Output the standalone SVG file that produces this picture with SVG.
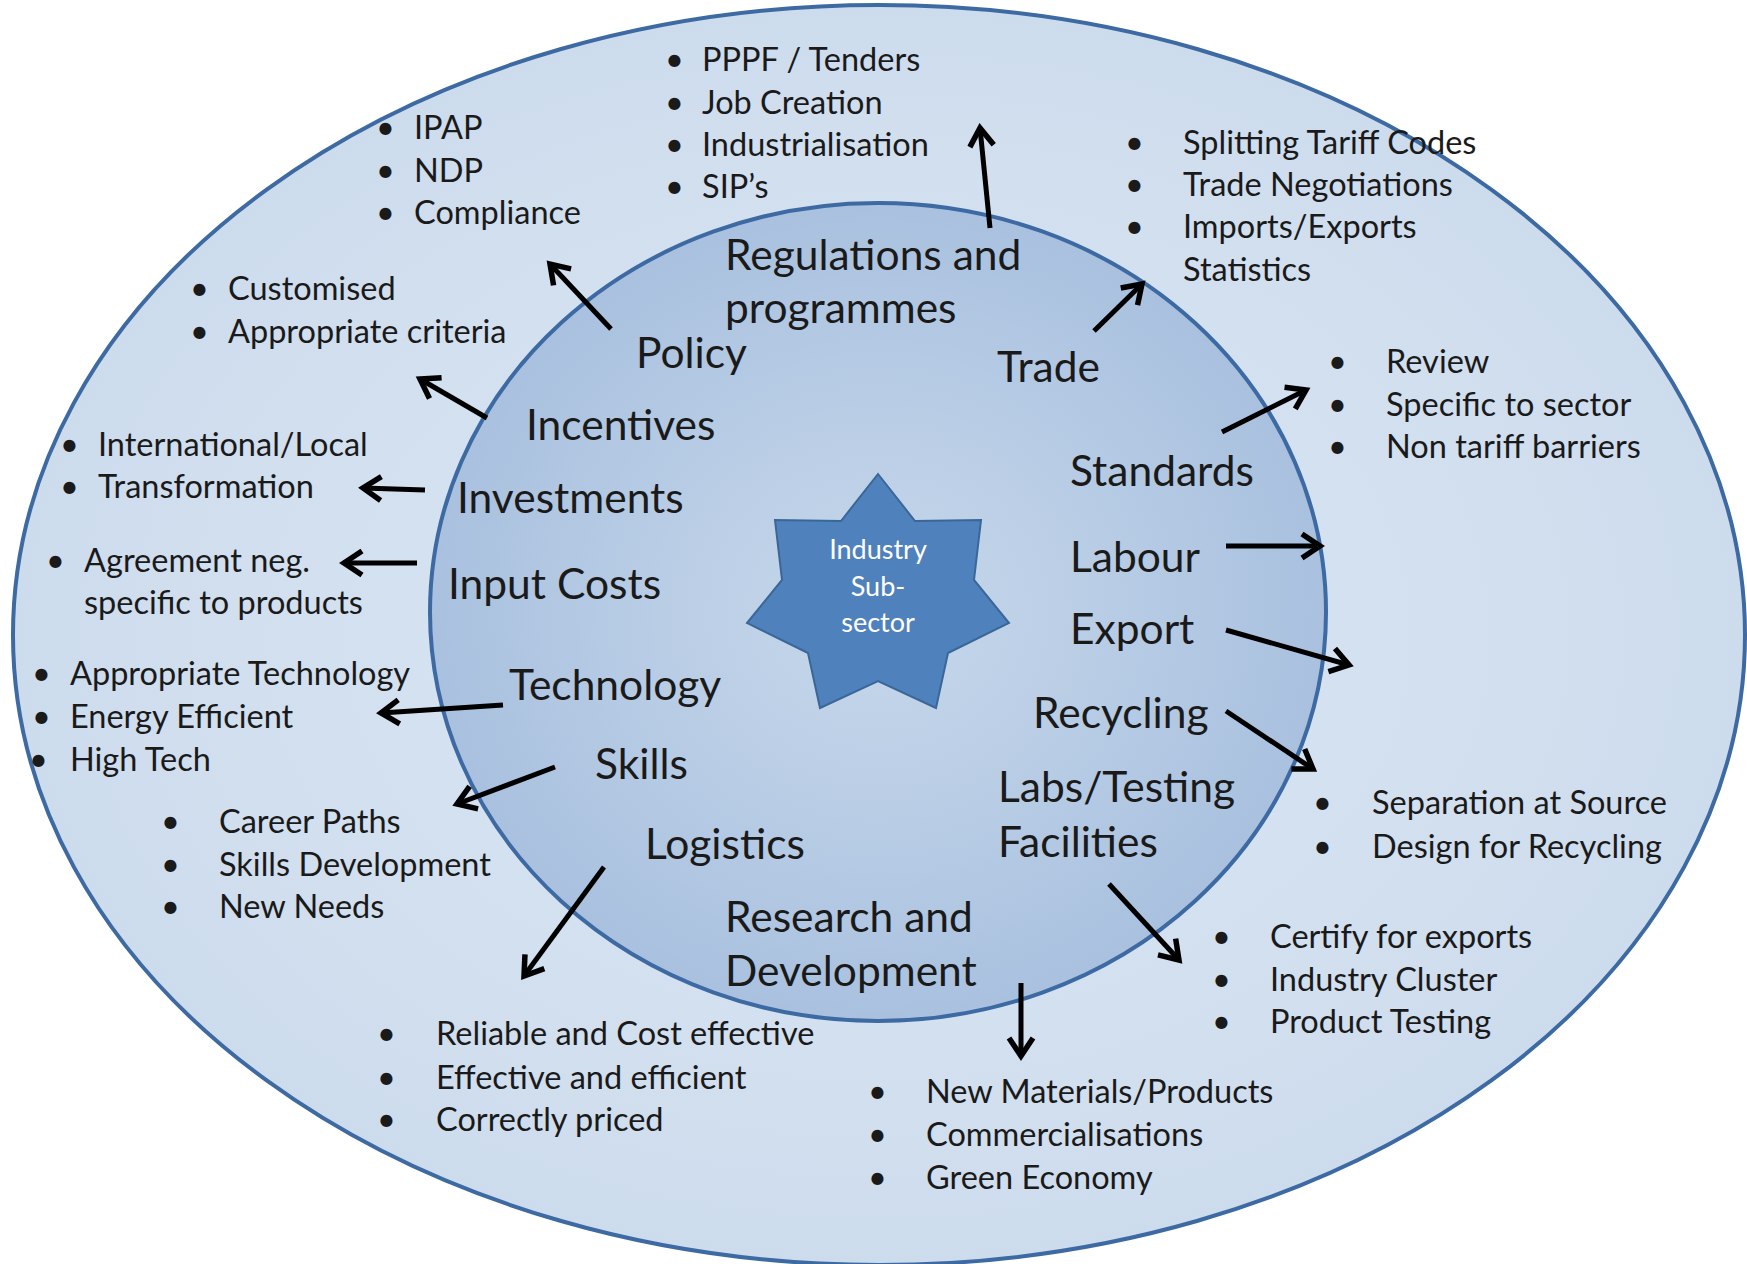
<svg xmlns="http://www.w3.org/2000/svg" width="1747" height="1264" viewBox="0 0 1747 1264">
<defs>
<radialGradient id="gOuter" cx="50%" cy="50%" r="50%">
<stop offset="0" stop-color="#dde7f3"/>
<stop offset="1" stop-color="#cddced"/>
</radialGradient>
<radialGradient id="gInner" cx="50%" cy="50%" r="50%">
<stop offset="0" stop-color="#c8d8eb"/>
<stop offset="1" stop-color="#a9c1df"/>
</radialGradient>
<marker id="ah" markerUnits="userSpaceOnUse" markerWidth="32" markerHeight="32" viewBox="0 0 32 32" refX="26" refY="16" orient="auto">
<path d="M8,4 L26,16 L8,28" fill="none" stroke="#000" stroke-width="5.5" stroke-linejoin="miter"/>
</marker>
<style>
.lbl{font-family:Lato,"Liberation Sans",sans-serif;font-size:42.5px;fill:#1a1a1a}
.bl{font-family:Lato,"Liberation Sans",sans-serif;font-size:32.5px;fill:#1a1a1a}
.st{font-family:Lato,"Liberation Sans",sans-serif;font-size:27px;fill:#ffffff;text-anchor:middle}
.arr{stroke:#000;stroke-width:5;fill:none;marker-end:url(#ah)}
</style>
</defs>
<rect width="1747" height="1264" fill="#ffffff"/>
<g id="outer">
<ellipse cx="879" cy="635" rx="866" ry="630" fill="url(#gOuter)" stroke="#3d6aa3" stroke-width="4"/>
</g>
<g id="inner">
<ellipse cx="878" cy="612" rx="448" ry="409" fill="url(#gInner)" stroke="#3d6aa3" stroke-width="4"/>
</g>
<g id="star">
<polygon points="878,474 915,521 981,520 974,580 1009,623 948,653 936,708 878,681 820,708 808,653 747,623 782,580 775,520 841,521" fill="#4f81bd" stroke="#3a6797" stroke-width="2"/>
<text class="st" x="878" y="559">Industry</text>
<text class="st" x="878" y="596">Sub-</text>
<text class="st" x="878" y="632">sector</text>
</g>
<g id="labels">
<text class="lbl" x="725" y="270">Regulations and</text>
<text class="lbl" x="725" y="323">programmes</text>
<text class="lbl" x="636" y="368">Policy</text>
<text class="lbl" x="997" y="382">Trade</text>
<text class="lbl" x="526" y="440">Incentives</text>
<text class="lbl" x="457" y="513">Investments</text>
<text class="lbl" x="1070" y="486">Standards</text>
<text class="lbl" x="1070" y="572">Labour</text>
<text class="lbl" x="448" y="599">Input Costs</text>
<text class="lbl" x="1070" y="644">Export</text>
<text class="lbl" x="509" y="700">Technology</text>
<text class="lbl" x="1033" y="728">Recycling</text>
<text class="lbl" x="595" y="779">Skills</text>
<text class="lbl" x="998" y="802">Labs/Testing</text>
<text class="lbl" x="998" y="857">Facilities</text>
<text class="lbl" x="645" y="859">Logistics</text>
<text class="lbl" x="725" y="932">Research and</text>
<text class="lbl" x="725" y="986">Development</text>
</g>
<g id="list-regulations">
<text class="bl" x="665" y="71">•</text><text class="bl" x="702" y="71">PPPF / Tenders</text>
<text class="bl" x="665" y="114">•</text><text class="bl" x="702" y="114">Job Creation</text>
<text class="bl" x="665" y="156">•</text><text class="bl" x="702" y="156">Industrialisation</text>
<text class="bl" x="665" y="198">•</text><text class="bl" x="702" y="198">SIP’s</text>
</g>
<g id="list-policy">
<text class="bl" x="376" y="139">•</text><text class="bl" x="414" y="139">IPAP</text>
<text class="bl" x="376" y="182">•</text><text class="bl" x="414" y="182">NDP</text>
<text class="bl" x="376" y="224">•</text><text class="bl" x="414" y="224">Compliance</text>
</g>
<g id="list-trade">
<text class="bl" x="1125" y="154">•</text><text class="bl" x="1183" y="154">Splitting Tariff Codes</text>
<text class="bl" x="1125" y="196">•</text><text class="bl" x="1183" y="196">Trade Negotiations</text>
<text class="bl" x="1125" y="238">•</text><text class="bl" x="1183" y="238">Imports/Exports</text>
<text class="bl" x="1183" y="281">Statistics</text>
</g>
<g id="list-incentives">
<text class="bl" x="190" y="300">•</text><text class="bl" x="228" y="300">Customised</text>
<text class="bl" x="190" y="343">•</text><text class="bl" x="228" y="343">Appropriate criteria</text>
</g>
<g id="list-standards">
<text class="bl" x="1328" y="373">•</text><text class="bl" x="1386" y="373">Review</text>
<text class="bl" x="1328" y="416">•</text><text class="bl" x="1386" y="416">Specific to sector</text>
<text class="bl" x="1328" y="458">•</text><text class="bl" x="1386" y="458">Non tariff barriers</text>
</g>
<g id="list-investments">
<text class="bl" x="60" y="456">•</text><text class="bl" x="98" y="456">International/Local</text>
<text class="bl" x="60" y="498">•</text><text class="bl" x="98" y="498">Transformation</text>
</g>
<g id="list-inputcosts">
<text class="bl" x="46" y="572">•</text><text class="bl" x="84" y="572">Agreement neg.</text>
<text class="bl" x="84" y="614">specific to products</text>
</g>
<g id="list-technology">
<text class="bl" x="32" y="685">•</text><text class="bl" x="70" y="685">Appropriate Technology</text>
<text class="bl" x="32" y="728">•</text><text class="bl" x="70" y="728">Energy Efficient</text>
<text class="bl" x="29" y="771">•</text><text class="bl" x="70" y="771">High Tech</text>
</g>
<g id="list-skills">
<text class="bl" x="161" y="833">•</text><text class="bl" x="219" y="833">Career Paths</text>
<text class="bl" x="161" y="876">•</text><text class="bl" x="219" y="876">Skills Development</text>
<text class="bl" x="161" y="918">•</text><text class="bl" x="219" y="918">New Needs</text>
</g>
<g id="list-recycling">
<text class="bl" x="1313" y="814">•</text><text class="bl" x="1372" y="814">Separation at Source</text>
<text class="bl" x="1313" y="858">•</text><text class="bl" x="1372" y="858">Design for Recycling</text>
</g>
<g id="list-labs">
<text class="bl" x="1212" y="948">•</text><text class="bl" x="1270" y="948">Certify for exports</text>
<text class="bl" x="1212" y="991">•</text><text class="bl" x="1270" y="991">Industry Cluster</text>
<text class="bl" x="1212" y="1033">•</text><text class="bl" x="1270" y="1033">Product Testing</text>
</g>
<g id="list-logistics">
<text class="bl" x="377" y="1045">•</text><text class="bl" x="436" y="1045">Reliable and Cost effective</text>
<text class="bl" x="377" y="1089">•</text><text class="bl" x="436" y="1089">Effective and efficient</text>
<text class="bl" x="377" y="1131">•</text><text class="bl" x="436" y="1131">Correctly priced</text>
</g>
<g id="list-research">
<text class="bl" x="868" y="1103">•</text><text class="bl" x="926" y="1103">New Materials/Products</text>
<text class="bl" x="868" y="1146">•</text><text class="bl" x="926" y="1146">Commercialisations</text>
<text class="bl" x="868" y="1189">•</text><text class="bl" x="926" y="1189">Green Economy</text>
</g>
<g id="connectors">
<line class="arr" x1="990" y1="228" x2="980" y2="128"/>
<line class="arr" x1="611" y1="329" x2="550" y2="264"/>
<line class="arr" x1="1094" y1="331" x2="1142" y2="284"/>
<line class="arr" x1="487" y1="418" x2="420" y2="379"/>
<line class="arr" x1="425" y1="490" x2="363" y2="488"/>
<line class="arr" x1="417" y1="563" x2="344" y2="563"/>
<line class="arr" x1="1222" y1="432" x2="1306" y2="390"/>
<line class="arr" x1="1226" y1="546" x2="1320" y2="546"/>
<line class="arr" x1="1226" y1="630" x2="1349" y2="665"/>
<line class="arr" x1="1226" y1="711" x2="1313" y2="769"/>
<line class="arr" x1="503" y1="705" x2="381" y2="713"/>
<line class="arr" x1="555" y1="767" x2="457" y2="804"/>
<line class="arr" x1="604" y1="867" x2="524" y2="976"/>
<line class="arr" x1="1109" y1="884" x2="1179" y2="960"/>
<line class="arr" x1="1021" y1="983" x2="1021" y2="1056"/>
</g>
</svg>
